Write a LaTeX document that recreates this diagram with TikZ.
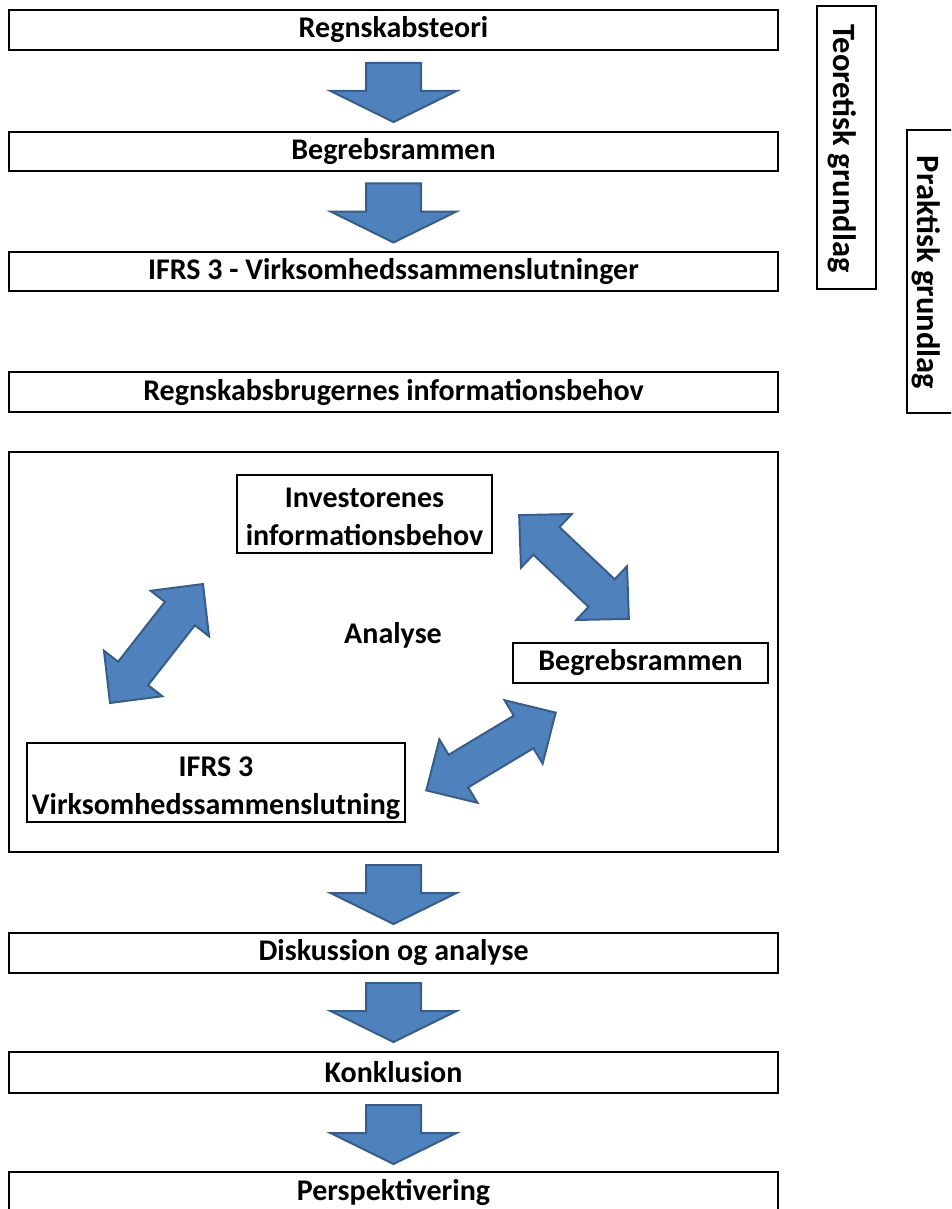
\documentclass[tikz,border=0pt]{standalone}
\usepackage{fontspec}
\setmainfont{Carlito}
\usetikzlibrary{calc}

\definecolor{arrowblue}{HTML}{4F81BD}
\definecolor{arrowedge}{HTML}{385D8A}

\tikzset{
  boxtext/.style={font=\bfseries\fontsize{30}{38}\selectfont, align=center},
  stepbox/.style={boxtext, draw=black, line width=2pt, inner sep=0pt,
    minimum width=769pt, minimum height=40pt},
  sidebox/.style={draw=black, line width=2pt, minimum width=60pt, minimum height=283pt},
  sidetext/.style={font=\bfseries\fontsize{32.5}{38}\selectfont, rotate=-90, inner sep=0pt},
  innerbox/.style={stepbox, minimum width=255pt},
  arrowshape/.style={fill=arrowblue, draw=arrowedge, line width=2pt, line join=miter},
  flowdown/.pic={
    \draw[arrowshape] (-27.5,-29.5) -- (27.5,-29.5) -- (27.5,-1.5) -- (63,-1.5)
      -- (0,29.5) -- (-63,-1.5) -- (-27.5,-1.5) -- cycle;
  },
  twoway/.pic={
    \draw[arrowshape] (-75.5,0) -- (-38,37) -- (-38,19) -- (38,19) -- (38,37)
      -- (75.5,0) -- (38,-37) -- (38,-19) -- (-38,-19) -- (-38,-37) -- cycle;
  }
}

\begin{document}
\begin{tikzpicture}[x=1pt,y=-1pt]
  \path[use as bounding box, clip] (0,0) rectangle (951,1209);

  % main column
  \node[stepbox] (theory) at (393.5,30) {Regnskabsteori};
  \node[stepbox, minimum height=39pt] (framework) at (393.5,151.5) {Begrebsrammen};
  \node[stepbox, minimum height=39pt] (ifrs) at (393.5,271.5) {IFRS 3 - Virksomhedssammenslutninger};
  \node[stepbox] (users) at (393.5,392) {Regnskabsbrugernes informationsbehov};
  \node[stepbox, minimum height=400pt] (frame) at (393.5,652) {};
  \node[stepbox] (discussion) at (393.5,953) {Diskussion og analyse};
  \node[stepbox, minimum height=41pt] (conclusion) at (393.5,1072.5) {Konklusion};
  \node[stepbox] (perspective) at (393.5,1192) {Perspektivering};

  % side labels
  \node[sidebox, minimum width=59pt] (theoryside) at (846.5,147.5) {};
  \node[sidetext] (theorytext) at (842.5,148.5) {Teoretisk grundlag};
  \node[sidebox] (practiceside) at (937,271.5) {};
  \node[sidetext] (practicetext) at (926.5,272.5) {Praktisk grundlag};

  % analysis
  \node[innerbox, minimum height=78pt,
    label={[boxtext, yshift=-3pt]center:Investorenes\\informationsbehov}] (investors) at (364.5,514) {};
  \node[innerbox] (frameworkin) at (640.5,663) {Begrebsrammen};
  \node[innerbox, minimum width=378pt, minimum height=79pt,
    label={[boxtext, yshift=-6pt]center:IFRS 3\\Virksomhedssammenslutning}] (ifrsin) at (216,782.5) {};
  \node[boxtext] (analyse) at (393,635) {Analyse};

  \pic[rotate=-43.4] at (574,567) {twoway};
  \pic[rotate=52] at (156.5,643.5) {twoway};
  \pic[rotate=31] at (491,751.5) {twoway};

  % flow arrows
  \pic at ($(theory.south)!0.5!(framework.north)+(0,1.5)$) {flowdown};
  \pic at ($(framework.south)!0.5!(ifrs.north)+(0,1.5)$) {flowdown};
  \pic at ($(frame.south)!0.5!(discussion.north)+(0,2)$) {flowdown};
  \pic at ($(discussion.south)!0.5!(conclusion.north)+(0,0)$) {flowdown};
  \pic at ($(conclusion.south)!0.5!(perspective.north)+(0,2)$) {flowdown};
\end{tikzpicture}
\end{document}
